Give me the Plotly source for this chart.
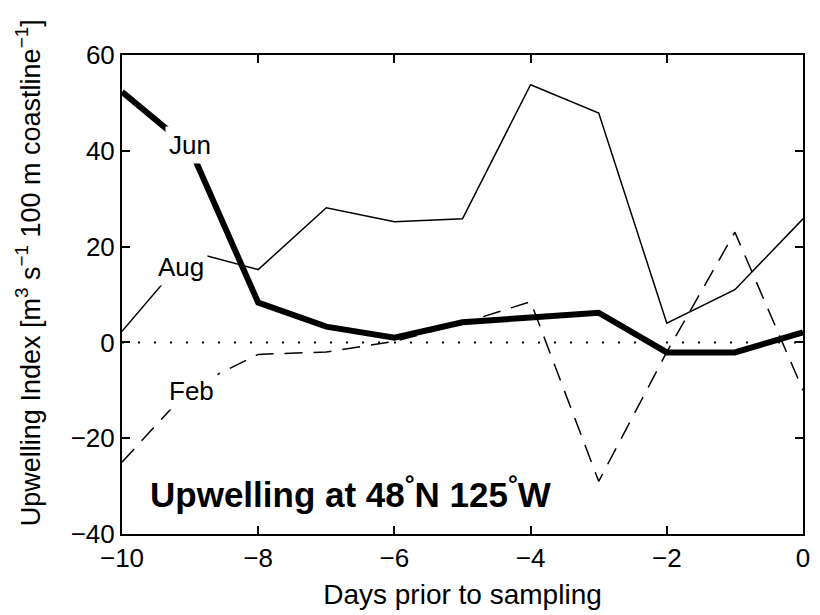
import plotly.graph_objects as go

days = [-10, -9, -8, -7, -6, -5, -4, -3, -2, -1, 0]
jun = [52.3, 40.5, 8.3, 3.3, 1.0, 4.2, 5.2, 6.2, -2.1, -2.1, 2.1]
aug = [2.3, 19.0, 15.2, 28.1, 25.2, 25.8, 53.8, 47.9, 4.0, 11.0, 25.8]
feb = [-25.0, -9.5, -2.5, -2.0, 0.2, 4.0, 8.5, -29.0, -2.0, 23.0, -10.0]
zero_x = [-10, 0]
zero_y = [0, 0]

labels = ["Jun", "Aug", "Feb"]
label_x = [-9.0, -9.13, -8.98]
label_y = [41.3, 15.8, -10.2]

FONT = "Liberation Sans, Arial, Helvetica, sans-serif"

fig = go.Figure()
fig.add_trace(go.Scatter(x=zero_x, y=zero_y, mode="lines",
                         line=dict(color="black", width=2, dash="2px,14px"), showlegend=False))
fig.add_trace(go.Scatter(x=days, y=feb, mode="lines",
                         line=dict(color="black", width=1.5, dash="18px,11px"), showlegend=False))
fig.add_trace(go.Scatter(x=days, y=aug, mode="lines",
                         line=dict(color="black", width=1.5), showlegend=False))
fig.add_trace(go.Scatter(x=days, y=jun, mode="lines",
                         line=dict(color="black", width=6), showlegend=False))

for t, lx, ly in zip(labels, label_x, label_y):
    fig.add_annotation(x=lx, y=ly, text=t, showarrow=False, bgcolor="white",
                       font=dict(family=FONT, size=26, color="black"),
                       borderpad=3)

fig.add_annotation(x=-9.62, y=-31.2, xanchor="left", yanchor="middle",
                   text="<b>Upwelling at 48<sup>°</sup>N 125<sup>°</sup>W</b>",
                   showarrow=False, font=dict(family=FONT, size=35, color="black"))

# y axis title placed as rotated annotation
fig.add_annotation(xref="paper", yref="paper", x=-0.137, y=0.546,
                   xanchor="center", yanchor="middle", textangle=-90,
                   text="Upwelling Index [m<sup>3</sup> s<sup>−1</sup> 100 m coastline<sup>−1</sup>]",
                   showarrow=False, font=dict(family=FONT, size=27, color="black"))

axis_common = dict(showgrid=False, zeroline=False, showline=True, linecolor="black",
                   linewidth=2, mirror="ticks", ticks="inside", ticklen=8,
                   tickwidth=1.5, tickcolor="black",
                   tickfont=dict(family=FONT, size=26, color="black"))

fig.update_xaxes(range=[-10, 0], tickvals=[-10, -8, -6, -4, -2, 0],
                 ticktext=["−10", "−8", "−6", "−4", "−2", "0"],
                 title=dict(text="Days prior to sampling", font=dict(family=FONT, size=28, color="black"),
                            standoff=12),
                 **axis_common)
fig.update_yaxes(range=[-40, 60], tickvals=[-40, -20, 0, 20, 40, 60],
                 ticktext=["−40", "−20", "0", "20", "40", "60"],
                 **axis_common)

fig.update_layout(width=820, height=615, margin=dict(l=122, r=10, t=55, b=80),
                  paper_bgcolor="white", plot_bgcolor="white",
                  font=dict(family=FONT, color="black"))

fig.write_html("out.html")
